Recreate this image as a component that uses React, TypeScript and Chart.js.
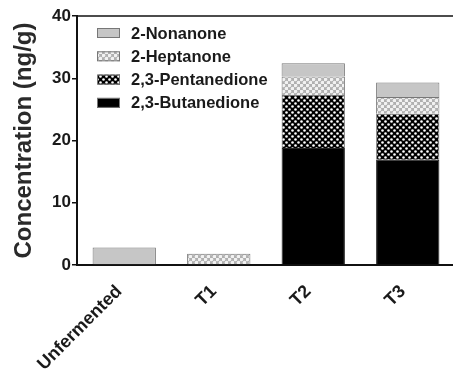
import React, { useEffect, useRef } from "react";
import { Chart, registerables } from "chart.js";

Chart.register(...registerables);

const categories = ["Unfermented", "T1", "T2", "T3"];
const butanedione = [null, null, 18.8, 16.9];
const pentanedione = [null, null, 8.5, 7.4];
const heptanone = [null, 1.8, 3.0, 2.7];
const nonanone = [2.8, null, 2.1, 2.3];
const yTicks = [0, 10, 20, 30, 40];

const FONT = "'Liberation Sans', Arial, sans-serif";

function makePentPattern(): CanvasPattern | string {
  const c = document.createElement("canvas");
  c.width = 6;
  c.height = 6;
  const g = c.getContext("2d");
  if (!g) return "#444";
  g.fillStyle = "#000";
  g.fillRect(0, 0, 6, 6);
  g.fillStyle = "#fff";
  g.beginPath();
  g.arc(1.5, 1.5, 1.3, 0, Math.PI * 2);
  g.fill();
  g.beginPath();
  g.arc(4.5, 4.5, 1.3, 0, Math.PI * 2);
  g.fill();
  return g.createPattern(c, "repeat") || "#444";
}

function makeHeptPattern(): CanvasPattern | string {
  const c = document.createElement("canvas");
  c.width = 6;
  c.height = 6;
  const g = c.getContext("2d");
  if (!g) return "#ddd";
  g.fillStyle = "#b0b0b0";
  g.fillRect(0, 0, 6, 6);
  g.fillStyle = "#f2f2f2";
  g.beginPath();
  g.arc(1.5, 1.5, 1.8, 0, Math.PI * 2);
  g.fill();
  g.beginPath();
  g.arc(4.5, 4.5, 1.8, 0, Math.PI * 2);
  g.fill();
  return g.createPattern(c, "repeat") || "#ddd";
}

export default function App() {
  const ref = useRef<HTMLCanvasElement>(null);
  useEffect(() => {
    if (!ref.current) return;
    const pent = makePentPattern();
    const hept = makeHeptPattern();

    const framePlugin = {
      id: "frameAndLegend",
      afterDraw(chart: any) {
        const { ctx, chartArea } = chart;
        ctx.save();
        ctx.strokeStyle = "#111";
        ctx.lineWidth = 1.5;
        ctx.beginPath();
        ctx.moveTo(chartArea.left, chartArea.top);
        ctx.lineTo(chartArea.right, chartArea.top);
        ctx.stroke();
        // legend
        const ds = chart.data.datasets.slice().reverse();
        const x0 = chartArea.left + 20;
        let y = 33;
        ctx.font = `bold 16.5px ${FONT}`;
        ctx.textBaseline = "middle";
        ctx.textAlign = "left";
        for (const d of ds) {
          ctx.fillStyle = d.backgroundColor;
          ctx.fillRect(x0, y - 5, 23, 10);
          ctx.strokeStyle = "#777";
          ctx.lineWidth = 1;
          ctx.strokeRect(x0 + 0.5, y - 5 + 0.5, 22, 9);
          ctx.fillStyle = "#1a1a1a";
          ctx.fillText(d.label, x0 + 34, y + 1);
          y += 23.3;
        }
        ctx.restore();
      },
    };

    const common = {
      borderColor: "#777",
      borderWidth: 1,
      barPercentage: 0.67,
      categoryPercentage: 1,
    };

    const chart = new Chart(ref.current, {
      type: "bar",
      data: {
        labels: categories,
        datasets: [
          { label: "2,3-Butanedione", data: butanedione, backgroundColor: "#000", ...common, borderColor: "#222" },
          { label: "2,3-Pentanedione", data: pentanedione, backgroundColor: pent as any, ...common },
          { label: "2-Heptanone", data: heptanone, backgroundColor: hept as any, ...common },
          { label: "2-Nonanone", data: nonanone, backgroundColor: "#c6c6c6", ...common },
        ] as any,
      },
      options: {
        responsive: false,
        animation: false,
        layout: { padding: { top: 16, right: 5, left: 0, bottom: 0 } },
        plugins: { legend: { display: false }, tooltip: { enabled: false } },
        scales: {
          x: {
            stacked: true,
            offset: true,
            afterFit: (s: any) => {
              s.height = 109;
            },
            grid: { display: false, drawTicks: false },
            border: { display: true, color: "#111", width: 2 },
            ticks: {
              minRotation: 45,
              maxRotation: 45,
              padding: 16,
              labelOffset: -5,
              color: "#1a1a1a",
              font: { family: FONT, size: 18, weight: "bold" },
            },
          },
          y: {
            stacked: true,
            min: 0,
            max: 40,
            afterFit: (s: any) => {
              s.width = 77;
            },
            afterBuildTicks: (s: any) => {
              s.ticks = yTicks.map((v) => ({ value: v }));
            },
            grid: {
              drawOnChartArea: false,
              drawTicks: true,
              tickLength: 5,
              lineWidth: 1.5,
              color: "#111",
            },
            border: { display: true, color: "#111", width: 2 },
            ticks: {
              padding: 1,
              color: "#1a1a1a",
              font: { family: FONT, size: 17, weight: "bold" },
            },
            title: {
              display: true,
              text: "Concentration (ng/g)",
              color: "#2a2a2a",
              padding: { top: 10, bottom: 0 },
              font: { family: FONT, size: 24, weight: "bold" },
            },
          },
        },
      },
      plugins: [framePlugin],
    });
    return () => chart.destroy();
  }, []);

  return (
    <div
      style={{
        position: "fixed",
        left: 0,
        top: 0,
        width: 453,
        height: 374,
        overflow: "hidden",
        background: "#fff",
      }}
    >
      <canvas ref={ref} width={460} height={374} style={{ display: "block" }} />
    </div>
  );
}
